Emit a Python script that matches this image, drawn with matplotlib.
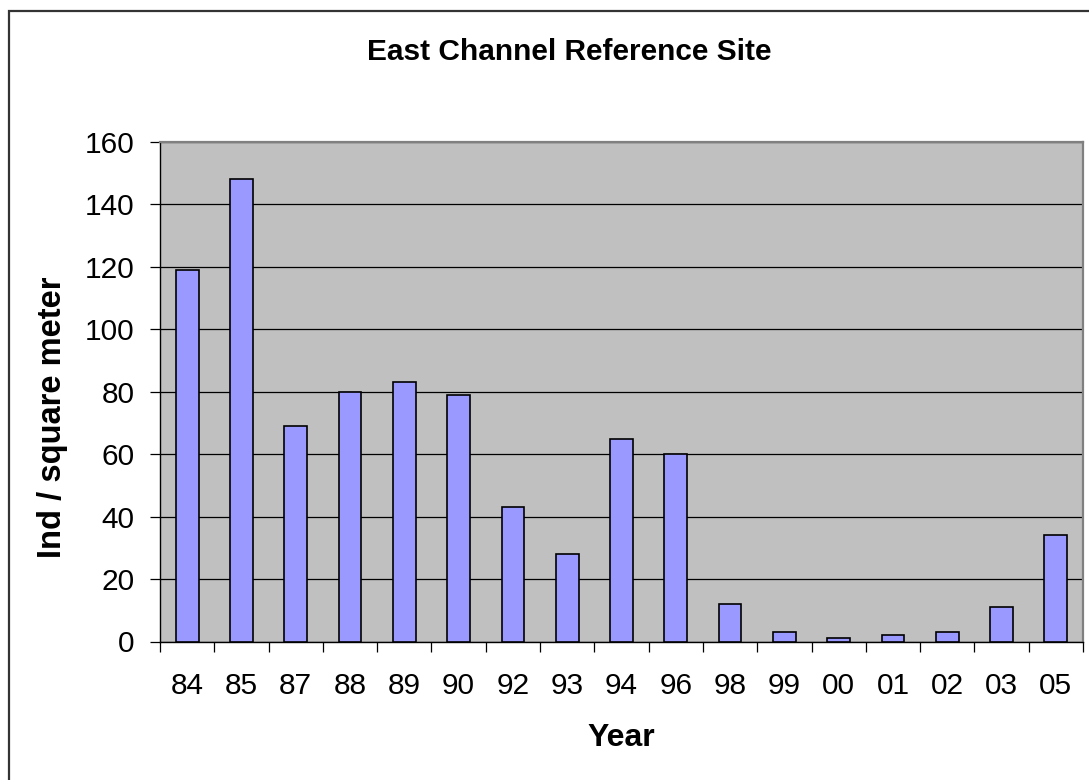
import matplotlib
matplotlib.use('Agg')
import matplotlib.pyplot as plt
from matplotlib.patches import Rectangle
import numpy as np

plt.rcParams['font.family'] = ['Liberation Sans', 'DejaVu Sans']

years = ['84', '85', '87', '88', '89', '90', '92', '93', '94', '96',
         '98', '99', '00', '01', '02', '03', '05']
density = [119, 148, 69, 80, 83, 79, 43, 28, 65, 60,
           12, 3, 1, 2, 3, 11, 34]
y_ticks = [0, 20, 40, 60, 80, 100, 120, 140, 160]

W, H = 1089, 780
fig = plt.figure(figsize=(W / 100, H / 100), dpi=100)

# frame around the whole chart, running off the right and bottom edges
fig.patches.append(Rectangle((9 / W, -0.05), 1.2, (H - 11) / H + 0.05,
                             transform=fig.transFigure, fill=False,
                             edgecolor='#333333', linewidth=1.6))

ax = fig.add_axes([160 / W, (H - 641.5) / H, (1083 - 160) / W, (641.5 - 142) / H])
ax.set_facecolor('#c0c0c0')

x = np.arange(len(years))
ax.bar(x, density, width=0.42, color='#9999ff', edgecolor='black',
       linewidth=1.2, zorder=3)

ax.set_xlim(-0.5, len(years) - 0.5)
ax.set_ylim(0, 160)

# horizontal grid
ax.set_yticks(y_ticks)
ax.yaxis.grid(True, color='black', linewidth=0.9, zorder=1)
ax.set_axisbelow(True)
ax.tick_params(axis='y', direction='out', length=7.5, width=0.9,
               labelsize=21.5, pad=11)

# categories labelled in the middle, tick marks on the boundaries
ax.set_xticks(x)
ax.set_xticklabels(years)
ax.set_xticks(np.arange(len(years) + 1) - 0.5, minor=True)
ax.tick_params(axis='x', which='major', length=0, labelsize=21.5, pad=22)
ax.tick_params(axis='x', which='minor', direction='out', length=7.5, width=0.9)

for side in ('left', 'bottom'):
    ax.spines[side].set_color('black')
    ax.spines[side].set_linewidth(1.0)
for side in ('top', 'right'):
    ax.spines[side].set_color('#808080')
    ax.spines[side].set_linewidth(1.6)

fig.text(569 / W, 1 - 52 / H, 'East Channel Reference Site',
         ha='center', va='center', fontsize=21.5, fontweight='bold')
fig.text(621 / W, 1 - 738 / H, 'Year',
         ha='center', va='center', fontsize=23, fontweight='bold')
fig.text(52 / W, 1 - 417 / H, 'Ind / square meter', rotation=90,
         ha='center', va='center', fontsize=23.5, fontweight='bold')

fig.savefig('out.png', dpi=100)
